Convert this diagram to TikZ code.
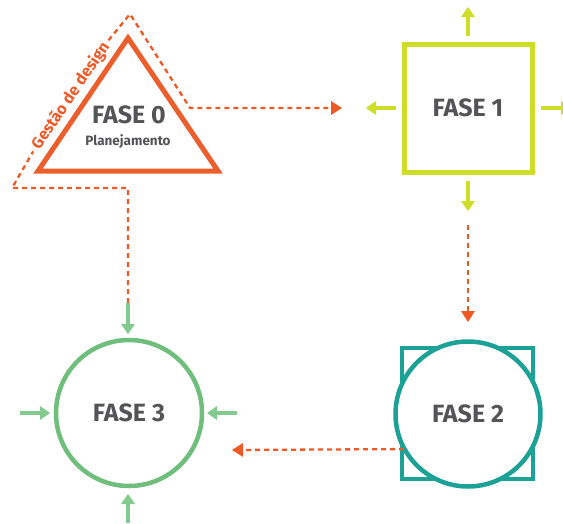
\documentclass[tikz,border=0pt]{standalone}
\usepackage{fontspec}
\setmainfont{Fira Sans}
\usetikzlibrary{arrows.meta}
\definecolor{laranja}{RGB}{236,94,44}
\definecolor{tracejado}{RGB}{240,88,38}
\definecolor{amarelo}{RGB}{206,221,38}
\definecolor{turquesa}{RGB}{28,161,150}
\definecolor{verde}{RGB}{112,190,124}
\definecolor{verdeclaro}{RGB}{130,202,142}
\definecolor{cinza}{RGB}{84,84,86}
\tikzset{
  fase/.style={text=cinza, font=\fontsize{25}{28}\selectfont\bfseries},
  tracado/.style={draw=tracejado, line width=2.3pt, dash pattern=on 5pt off 4pt,
    -{Triangle[width=14pt,length=11pt,line width=0pt]}},
  seta/.style={line width=4pt, -{Triangle[width=14pt,length=10pt,line width=0pt]}},
}
\begin{document}
\begin{tikzpicture}[x=1pt,y=-1pt]
  \useasboundingbox (0,0) rectangle (563,523);
  \clip (0,0) rectangle (563,523);

  % fase 0
  \coordinate (t0a) at (128,38);
  \coordinate (t0b) at (38,171);
  \coordinate (t0c) at (218,171);
  \draw [laranja, line width=5pt, line join=miter] (t0a) -- (t0b) -- (t0c) -- cycle;
  \node [fase, anchor=base] (f0) at (129,123) {FASE 0};
  \node [text=cinza, font=\fontsize{13.5}{16}\selectfont\bfseries, anchor=base] (plan) at (128,145) {Planejamento};

  % gestao de design
  \coordinate (g1) at (12,188);
  \coordinate (g2) at (130,14);
  \coordinate (g3) at (190,108);
  \coordinate (g4) at (128,188);
  \path ([shift={(-2.5,-1.7)}]g1) -- node [sloped, pos=0.52, inner sep=4pt, text=tracejado,
    font=\fontsize{16}{18}\selectfont\bfseries] (gd) {Gestão de design} ([shift={(-2.5,-1.7)}]g2);

  % fase 1
  \node [fase, draw=amarelo, line width=5pt, minimum size=128pt] (f1) at (468,108) {FASE 1};
  \coordinate (s1) at (342,108);
  \draw [seta, amarelo] (468,36) -- (468,7);
  \draw [seta, amarelo] (396,108) -- (366,108);
  \draw [seta, amarelo] (541,108) -- (571,108);
  \draw [seta, amarelo] (468,181) -- (468,211);

  % fase 2
  \draw [turquesa, line width=4.5pt] (402,348) rectangle (533,479);
  \node [fase, circle, draw=turquesa, fill=white, line width=4.5pt, minimum size=145pt] (f2) at (468,414) {FASE 2};
  \coordinate (d1) at (468,225);
  \coordinate (d2) at (468,322);
  \coordinate (s3) at (232,450);

  % fase 3
  \node [fase, circle, draw=verde, line width=4.5pt, minimum size=146pt] (f3) at (129,413) {FASE 3};
  \coordinate (v1) at (128,303);
  \draw [seta, verdeclaro] (v1) -- (128,334);
  \draw [seta, verdeclaro] (20,413) -- (50,413);
  \draw [seta, verdeclaro] (237,413) -- (207,413);
  \draw [seta, verdeclaro] (128,523) -- (128,494);

  % tracejados
  \draw [tracado, -] (v1) -- (g4) -- (g1) -- (gd.west);
  \draw [tracado] (gd.east) -- (g2) -- (g3) -- (s1);
  \draw [tracado] (d1) -- (d2);
  \draw [tracado, shorten <=-2pt] (f2.208) -- (s3);
\end{tikzpicture}
\end{document}
